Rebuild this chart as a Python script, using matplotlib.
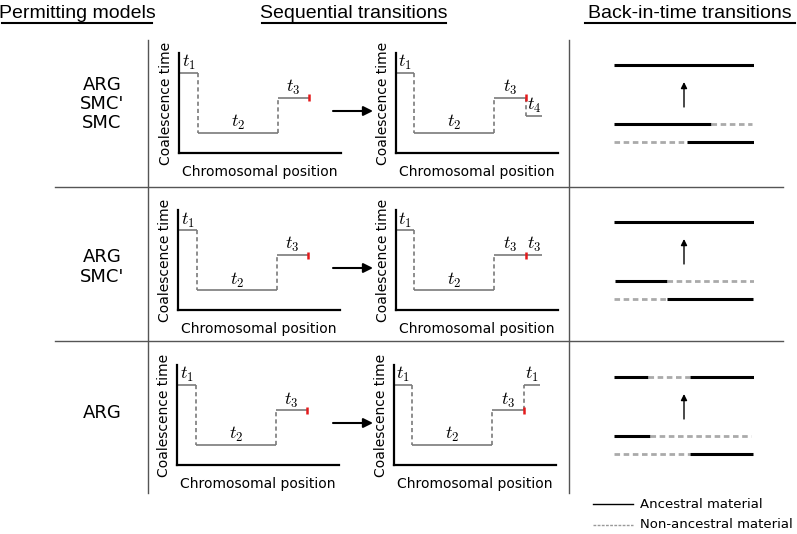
import matplotlib
matplotlib.use("Agg")
import matplotlib.pyplot as plt

plt.rcParams['mathtext.fontset'] = 'cm'
plt.rcParams['font.family'] = ['DejaVu Sans']

W, H = 797, 534

# column headers
headers = ['Permitting models', 'Sequential transitions', 'Back-in-time transitions']
header_x = [(2, 152), (262, 446), (585, 795)]

# models permitting each transition (one row each)
row_models = [["ARG", "SMC'", "SMC"], ["ARG", "SMC'"], ["ARG"]]

# coalescence time curve before the transition (same for every row)
before_breaks = [0, 1.2, 6.1, 8.0]
before_levels = [8.0, 2.0, 5.5]
before_labels = ['$t_1$', '$t_2$', '$t_3$']

# curve after the transition, per row
after_breaks = [0, 1.1, 6.05, 8.0, 9.0]
after_levels = [[8.0, 2.0, 5.5, 3.7],
                [8.0, 2.0, 5.5, 5.5],
                [8.0, 2.0, 5.5, 8.0]]
after_labels = [['$t_1$', '$t_2$', '$t_3$', '$t_4$'],
                ['$t_1$', '$t_2$', '$t_3$', '$t_3$'],
                ['$t_1$', '$t_2$', '$t_3$', '$t_1$']]
recomb_pos = 8.0

# back-in-time panels: (start, end, ancestral?) along the chromosome
bt_top = [[(0, 1, True)],
          [(0, 1, True)],
          [(0, 0.24, True), (0.24, 0.54, False), (0.54, 1, True)]]
bt_mid = [[(0, 0.69, True), (0.69, 0.985, False)],
          [(0.01, 0.38, True), (0.38, 1, False)],
          [(0, 0.26, True), (0.26, 0.975, False)]]
bt_low = [[(0, 0.52, False), (0.52, 1, True)],
          [(0, 0.38, False), (0.38, 0.99, True)],
          [(0, 0.54, False), (0.54, 0.99, True)]]

# layout (pixels)
row_base = [153, 310, 465]
left_x0 = [179, 178, 177]
right_x0 = [396, 396, 394]
bt_low_y = [142, 299, 454]

fig = plt.figure(figsize=(W / 100, H / 100), dpi=100)
ov = fig.add_axes([0, 0, 1, 1])
ov.set_xlim(0, W)
ov.set_ylim(H, 0)
ov.axis('off')

for txt, (xa, xb) in zip(headers, header_x):
    ov.text((xa + xb) / 2, 18, txt, ha='center', va='baseline', fontsize=14,
            family=['Liberation Sans', 'DejaVu Sans'])
    ov.plot([xa, xb], [23, 23], color='black', lw=1.5)

# grid separators
for x in [148, 569]:
    ov.plot([x, x], [40, 493], color='#555555', lw=1)
for y in [187, 341]:
    ov.plot([55, 783], [y, y], color='#555555', lw=1)

# model names
row_centers = [104, 267, 413]
for models, yc in zip(row_models, row_centers):
    n = len(models)
    for i, m in enumerate(models):
        ov.text(102, yc + (i - (n - 1) / 2) * 19.5, m, ha='center', va='center',
                fontsize=13)

grey = '#7a7a7a'


def px_axes(x0, ybot, w, h):
    return fig.add_axes([x0 / W, 1 - ybot / H, w / W, h / H])


def draw_curve(ax, breaks, levels, labels):
    for i, lev in enumerate(levels):
        ax.plot([breaks[i], breaks[i + 1]], [lev, lev], color=grey, lw=1.2,
                solid_capstyle='butt')
        ax.text((breaks[i] + breaks[i + 1]) / 2, lev + 0.05, labels[i],
                ha='center', va='bottom', fontsize=13)
        if i + 1 < len(levels):
            ax.plot([breaks[i + 1]] * 2, [lev, levels[i + 1]], color=grey,
                    lw=1.2, dashes=(2.5, 1.8))


def setup_mini(ax):
    ax.set_xlim(0, 10)
    ax.set_ylim(0, 10)
    ax.set_facecolor('none')
    for s in ['top', 'right']:
        ax.spines[s].set_visible(False)
    for s in ['left', 'bottom']:
        ax.spines[s].set_linewidth(1.6)
    ax.set_xticks([])
    ax.set_yticks([])
    ax.set_xlabel('Chromosomal position', fontsize=10, labelpad=8.5)
    ax.set_ylabel('Coalescence time', fontsize=10, labelpad=4)


for r in range(3):
    axl = px_axes(left_x0[r], row_base[r], 162, 100)
    setup_mini(axl)
    draw_curve(axl, before_breaks, before_levels, before_labels)
    axl.plot([recomb_pos] * 2, [before_levels[2] - 0.35, before_levels[2] + 0.35],
             color='#e41a1c', lw=1.8, solid_capstyle='butt')

    axr = px_axes(right_x0[r], row_base[r], 162, 100)
    setup_mini(axr)
    draw_curve(axr, after_breaks, after_levels[r], after_labels[r])
    axr.plot([recomb_pos] * 2, [after_levels[r][2] - 0.35, after_levels[r][2] + 0.35],
             color='#e41a1c', lw=1.8, solid_capstyle='butt')

    # sequential transition arrow
    ya = row_base[r] - 42
    ov.annotate('', xy=(373, ya), xytext=(333, ya),
                arrowprops=dict(arrowstyle='-|>', color='black', lw=1.5,
                                mutation_scale=14, shrinkA=0, shrinkB=0))

    # back-in-time panel
    axb = px_axes(614, bt_low_y[r] + 10, 140, 97)
    axb.set_xlim(0, 1)
    axb.set_ylim(-10, 87)
    axb.axis('off')
    for segs, y in [(bt_top[r], 77), (bt_mid[r], 18), (bt_low[r], 0)]:
        for a, b, anc in segs:
            if anc:
                axb.plot([a, b], [y, y], color='black', lw=2.2,
                         solid_capstyle='butt')
            else:
                axb.plot([a, b], [y, y], color='#aaaaaa', lw=2.0,
                         dashes=(2, 1.3))
    axb.annotate('', xy=(0.5, 60), xytext=(0.5, 35),
                 arrowprops=dict(arrowstyle='-|>', color='black', lw=1,
                                 mutation_scale=9, shrinkA=0, shrinkB=0))

# legend
ov.plot([593, 633], [504, 504], color='black', lw=1)
ov.text(640, 504, 'Ancestral material', va='center', fontsize=9.5)
ov.plot([593, 633], [525, 525], color='#999999', lw=1, dashes=(2, 1))
ov.text(640, 525, 'Non-ancestral material', va='center', fontsize=9.5)

fig.savefig('out.png', dpi=100)
